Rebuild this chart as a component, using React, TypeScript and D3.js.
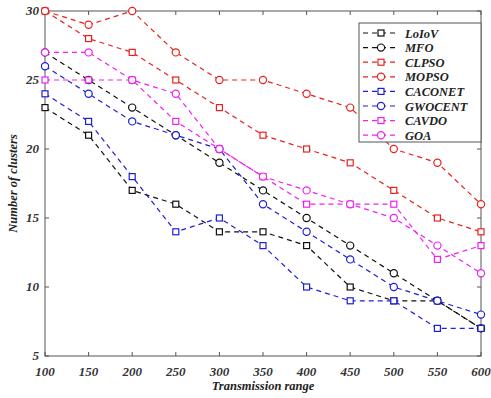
import * as d3 from 'd3';

// ─── Data ───────────────────────────────────────────────────

const ranges = [100, 150, 200, 250, 300, 350, 400, 450, 500, 550, 600];

const loIoV = [23, 21, 17, 16, 14, 14, 13, 10, 9, 9, 7];
const mfo = [27, 25, 23, 21, 19, 17, 15, 13, 11, 9, 7];
const clpso = [30, 28, 27, 25, 23, 21, 20, 19, 17, 15, 14];
const mopso = [30, 29, 30, 27, 25, 25, 24, 23, 20, 19, 16];
const caconet = [24, 22, 18, 14, 15, 13, 10, 9, 9, 7, 7];
const gwocent = [26, 24, 22, 21, 20, 16, 14, 12, 10, 9, 8];
const cavdo = [25, 25, 25, 22, 20, 18, 16, 16, 16, 12, 13];
const goa = [27, 27, 25, 24, 20, 18, 17, 16, 15, 13, 11];

const yTicks = [5, 10, 15, 20, 25, 30];

const series = [
  { name: 'LoIoV', values: loIoV, color: '#111', marker: 'square' },
  { name: 'MFO', values: mfo, color: '#111', marker: 'circle' },
  { name: 'CLPSO', values: clpso, color: '#e8231f', marker: 'square' },
  { name: 'MOPSO', values: mopso, color: '#e8231f', marker: 'circle' },
  { name: 'CACONET', values: caconet, color: '#1f1fd6', marker: 'square' },
  { name: 'GWOCENT', values: gwocent, color: '#1f1fd6', marker: 'circle' },
  { name: 'CAVDO', values: cavdo, color: '#f020f0', marker: 'square' },
  { name: 'GOA', values: goa, color: '#f020f0', marker: 'circle' },
];

// ─── Component ──────────────────────────────────────────────

const W = 491;
const H = 398;
const plot = { left: 45, top: 11, right: 481, bottom: 356 };
const font = '"Liberation Serif", "Times New Roman", serif';

function Marker({ kind, x, y, color }: { kind: string; x: number; y: number; color: string }) {
  if (kind === 'square') {
    return <rect x={x - 3} y={y - 3} width={6} height={6} fill="white" stroke={color} strokeWidth={1.2} />;
  }
  return <circle cx={x} cy={y} r={3.6} fill="white" stroke={color} strokeWidth={1.2} />;
}

export default function App() {
  const x = d3.scaleLinear().domain([100, 600]).range([plot.left, plot.right]);
  const y = d3.scaleLinear().domain([5, 30]).range([plot.bottom, plot.top]);
  const line = d3.line<number>()
    .x((_, i) => x(ranges[i]))
    .y((d) => y(d));

  const legend = { x: 359, y: 23, w: 122, h: 119, row: 14.6 };

  return (
    <svg width={W} height={H} style={{ position: 'absolute', left: 0, top: 0, background: 'white' }}>
      {/* frame */}
      <rect x={plot.left} y={plot.top} width={plot.right - plot.left} height={plot.bottom - plot.top}
        fill="white" stroke="#555" strokeWidth={1} />

      {/* ticks */}
      {ranges.map((t) => (
        <g key={`xt${t}`}>
          <line x1={x(t)} x2={x(t)} y1={plot.bottom} y2={plot.bottom - 4} stroke="#555" />
          <line x1={x(t)} x2={x(t)} y1={plot.top} y2={plot.top + 4} stroke="#555" />
          <text x={x(t)} y={plot.bottom + 20} textAnchor="middle" fontFamily={font}
            fontWeight="bold" fontStyle="italic" fontSize={13} fill="#333">{t}</text>
        </g>
      ))}
      {yTicks.map((t) => (
        <g key={`yt${t}`}>
          <line x1={plot.left} x2={plot.left + 4} y1={y(t)} y2={y(t)} stroke="#555" />
          <line x1={plot.right} x2={plot.right - 4} y1={y(t)} y2={y(t)} stroke="#555" />
          <text x={plot.left - 6} y={y(t) + 4} textAnchor="end" fontFamily={font}
            fontWeight="bold" fontStyle="italic" fontSize={13} fill="#333">{t}</text>
        </g>
      ))}

      {/* axis labels */}
      <text x={(plot.left + plot.right) / 2} y={390} textAnchor="middle" fontFamily={font}
        fontWeight="bold" fontStyle="italic" fontSize={12.5} fill="#222">Transmission range</text>
      <text transform={`translate(17,${(plot.top + plot.bottom) / 2}) rotate(-90)`} textAnchor="middle"
        fontFamily={font} fontWeight="bold" fontStyle="italic" fontSize={12.5} fill="#222">Number of clusters</text>

      {/* series */}
      {series.map((s) => (
        <g key={s.name}>
          <path d={line(s.values) ?? ''} fill="none" stroke={s.color} strokeWidth={1.2} strokeDasharray="5 4" />
          {s.values.map((v, i) => (
            <Marker key={i} kind={s.marker} x={x(ranges[i])} y={y(v)} color={s.color} />
          ))}
        </g>
      ))}

      {/* legend */}
      <rect x={legend.x} y={legend.y} width={legend.w} height={legend.h} fill="white" stroke="#555" />
      {series.map((s, i) => {
        const ly = legend.y + 10 + i * legend.row;
        return (
          <g key={`lg${s.name}`}>
            <line x1={legend.x + 4} x2={legend.x + 38} y1={ly} y2={ly} stroke={s.color}
              strokeWidth={1.2} strokeDasharray="5 4" />
            <Marker kind={s.marker} x={legend.x + 22} y={ly} color={s.color} />
            <text x={legend.x + 46} y={ly + 4.5} fontFamily={font} fontWeight="bold" fontStyle="italic"
              fontSize={12.5} fill="#222">{s.name}</text>
          </g>
        );
      })}
    </svg>
  );
}
